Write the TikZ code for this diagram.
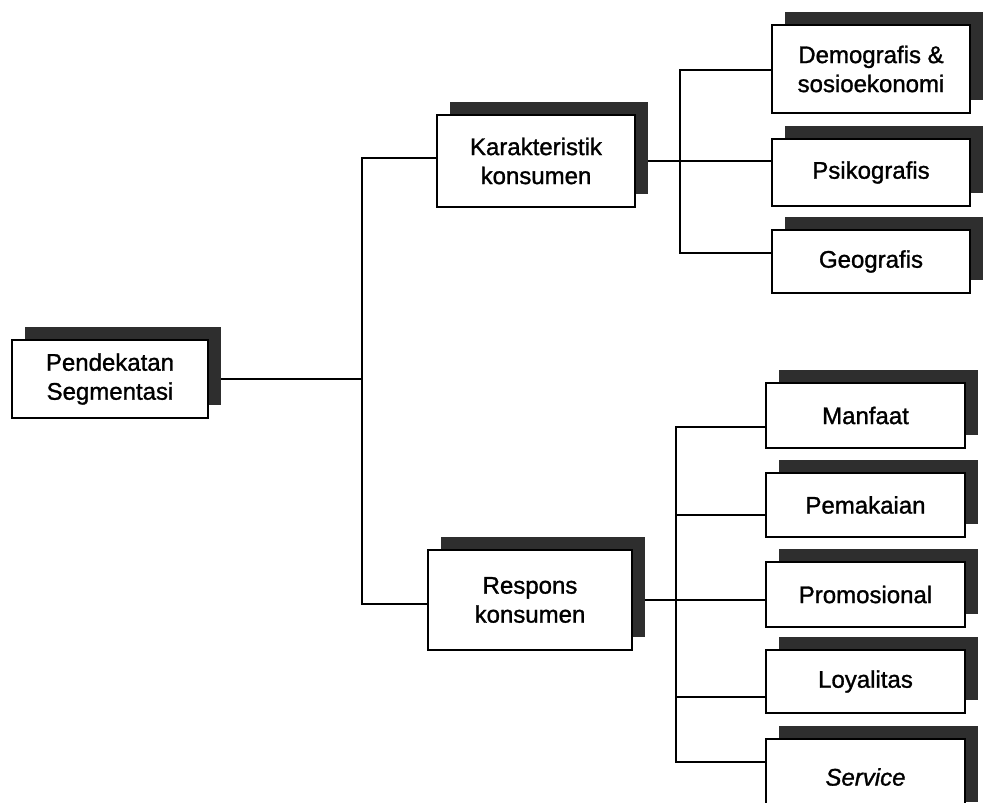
\documentclass[tikz,border=0pt]{standalone}
\usepackage{fontspec}
\setmainfont{Liberation Sans}[FakeBold=1.2]
\usetikzlibrary{shadows,backgrounds}
\begin{document}
\begin{tikzpicture}[x=1pt,y=-1pt,
  box/.style={draw=black, line width=2.8pt, fill=white, align=center, inner sep=0pt,
    font=\fontsize{24}{29}\selectfont,
    drop shadow={shadow xshift=13pt, shadow yshift=13pt, fill=black!82, opacity=1}},
  link/.style={line width=2pt}]
\useasboundingbox (0,0) rectangle (988,803);
\clip (0,0) rectangle (988,803);

% root
\node[box, minimum width=196pt, minimum height=78pt] (P) at (110,379) {Pendekatan\\Segmentasi};

% second level
\node[box, minimum width=198pt, minimum height=92pt] (K) at (536,161) {Karakteristik\\konsumen};
\node[box, minimum width=204pt, minimum height=100pt] (R) at (530,600) {Respons\\konsumen};

% consumer characteristics
\node[box, minimum width=198pt, minimum height=88pt] (D) at (871,69) {Demografis \&\\sosioekonomi};
\node[box, minimum width=198pt, minimum height=67pt] (Ps) at (871,172.5) {Psikografis};
\node[box, minimum width=198pt, minimum height=63pt] (G) at (871,261.5) {Geografis};

% consumer responses
\node[box, minimum width=199pt, minimum height=65pt] (M) at (865.5,415.5) {Manfaat};
\node[box, minimum width=199pt, minimum height=64pt] (Pe) at (865.5,505) {Pemakaian};
\node[box, minimum width=199pt, minimum height=65pt] (Pr) at (865.5,594.5) {Promosional};
\node[box, minimum width=199pt, minimum height=63pt] (L) at (865.5,681.5) {Loyalitas};
\node[box, minimum width=199pt, minimum height=76pt] (S) at (865.5,777) {\itshape Service};

% junction points of the trunks
\coordinate (t1) at (362,158);
\coordinate (t2) at (362,604);
\coordinate (u1) at (680,70);
\coordinate (u3) at (680,253);
\coordinate (v1) at (676,427);
\coordinate (v2) at (676,515);
\coordinate (v4) at (676,697);
\coordinate (v5) at (676,762);

\begin{pgfonlayer}{background}
  \draw[link] (P.east) -- (P.east -| t1);
  \draw[link] (t1 -| K.west) -- (t1) -- (t2) -- (t2 -| R.west);
  \draw[link] (K.east) -- (K.east -| Ps.west);
  \draw[link] (u1 -| D.west) -- (u1) -- (u3) -- (u3 -| G.west);
  \draw[link] (R.east) -- (R.east -| Pr.west);
  \draw[link] (v1 -| M.west) -- (v1) -- (v5) -- (v5 -| S.west);
  \draw[link] (v2) -- (v2 -| Pe.west);
  \draw[link] (v4) -- (v4 -| L.west);
\end{pgfonlayer}
\end{tikzpicture}
\end{document}
